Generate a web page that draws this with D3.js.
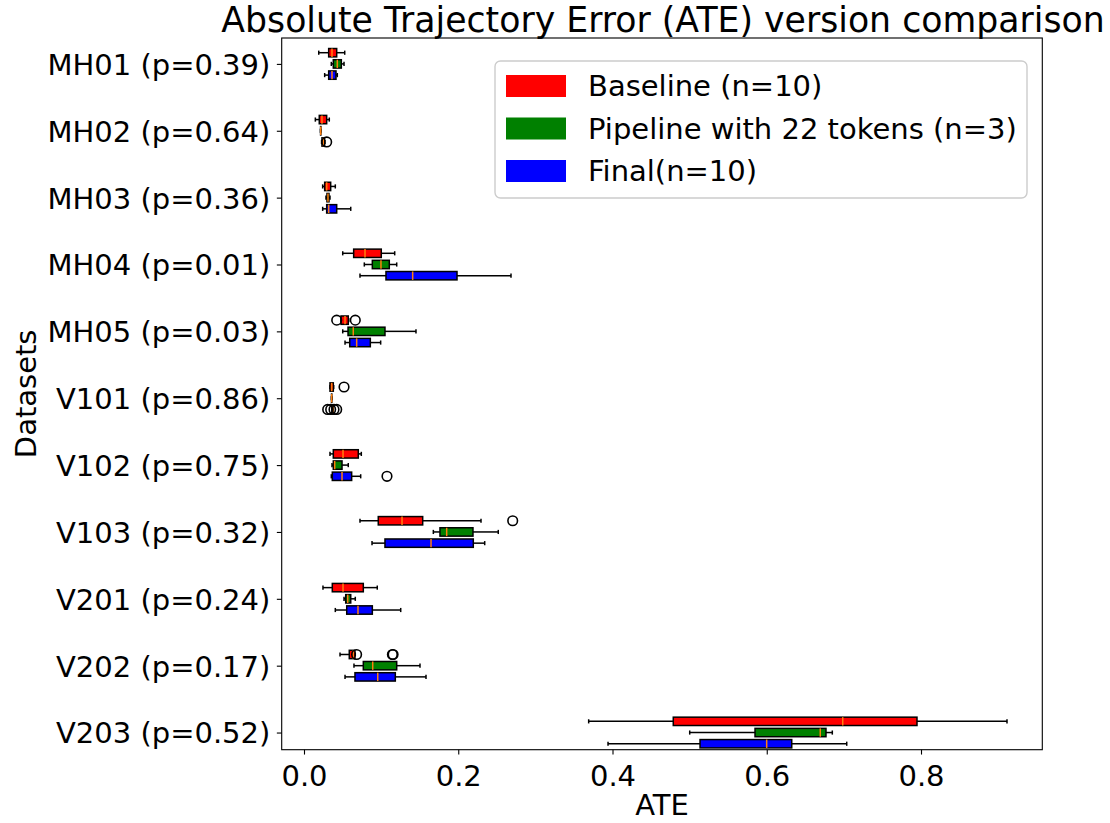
<!DOCTYPE html>
<html>
<head>
<meta charset="utf-8">
<script src="https://cdn.jsdelivr.net/npm/d3@7"></script>
<style>
  body { margin: 0; background: #ffffff; }
  svg { display: block; }
  text { font-family: "DejaVu Sans", sans-serif; fill: #000; }
</style>
</head>
<body>
<script>
// ---- data ---------------------------------------------------------------
const datasets = ["MH01", "MH02", "MH03", "MH04", "MH05", "V101", "V102", "V103", "V201", "V202", "V203"];
const pValues = ["0.39", "0.64", "0.36", "0.01", "0.03", "0.86", "0.75", "0.32", "0.24", "0.17", "0.52"];

const seriesNames = ["Baseline (n=10)", "Pipeline with 22 tokens (n=3)", "Final(n=10)"];
const seriesColors = ["#ff0000", "#008000", "#0000ff"];

// [min whisker, q1, median, q3, max whisker] for each dataset
const baselineStats = [
  [0.0191, 0.0320, 0.0363, 0.0424, 0.0528],
  [0.0147, 0.0198, 0.0233, 0.0294, 0.0328],
  [0.0242, 0.0268, 0.0294, 0.0346, 0.0406],
  [0.0502, 0.0644, 0.0791, 0.1002, 0.1176],
  [0.0480, 0.0480, 0.0532, 0.0574, 0.0580],
  [0.0337, 0.0337, 0.0359, 0.0380, 0.0385],
  [0.0337, 0.0380, 0.0506, 0.0704, 0.0743],
  [0.0726, 0.0963, 0.1271, 0.1539, 0.2295],
  [0.0246, 0.0367, 0.0506, 0.0769, 0.0950],
  [0.0467, 0.0587, 0.0639, 0.0661, 0.0665],
  [0.3691, 0.4788, 0.6985, 0.7948, 0.9115]
];
const pipelineStats = [
  [0.0354, 0.0380, 0.0432, 0.0484, 0.0519],
  [0.0213, 0.0215, 0.0217, 0.0219, 0.0221],
  [0.0285, 0.0298, 0.0311, 0.0324, 0.0337],
  [0.0782, 0.0886, 0.0998, 0.1106, 0.1202],
  [0.0502, 0.0571, 0.0639, 0.1050, 0.1452],
  [0.0355, 0.0357, 0.0359, 0.0361, 0.0363],
  [0.0363, 0.0380, 0.0398, 0.0493, 0.0574],
  [0.1677, 0.1763, 0.1850, 0.2191, 0.2519],
  [0.0519, 0.0541, 0.0567, 0.0606, 0.0665],
  [0.0648, 0.0769, 0.0891, 0.1202, 0.1504],
  [0.5001, 0.5848, 0.6694, 0.6768, 0.6850]
];
const finalStats = [
  [0.0268, 0.0320, 0.0363, 0.0415, 0.0432],
  [0.0228, 0.0233, 0.0250, 0.0268, 0.0272],
  [0.0242, 0.0294, 0.0320, 0.0424, 0.0606],
  [0.0726, 0.1063, 0.1409, 0.1984, 0.2684],
  [0.0532, 0.0593, 0.0683, 0.0860, 0.0994],
  [0.0362, 0.0365, 0.0372, 0.0378, 0.0381],
  [0.0354, 0.0367, 0.0493, 0.0618, 0.0735],
  [0.0882, 0.1050, 0.1647, 0.2195, 0.2343],
  [0.0406, 0.0554, 0.0700, 0.0886, 0.1254],
  [0.0532, 0.0661, 0.0956, 0.1184, 0.1582],
  [0.3942, 0.5135, 0.5999, 0.6324, 0.7037]
];

// points beyond the whiskers
const baselineOutliers = [[], [], [], [], [0.0424, 0.0665], [0.0519], [], [0.2706], [], [0.0682, 0.1146, 0.1155], []];
const pipelineOutliers = [[], [], [], [], [], [], [], [], [], [], []];
const finalOutliers = [[], [0.0294], [], [], [], [0.0307, 0.0346, 0.0389, 0.0424], [0.1076], [], [], [], []];

const xTicks = [0.0, 0.2, 0.4, 0.6, 0.8];

// ---- layout -------------------------------------------------------------
const W = 1110, H = 823;
const plot = { left: 281.7, right: 1042.3, top: 38, bottom: 749.7 };
const fontSize = 29;
const seriesOffset = [-0.1675, 0, 0.1675];
const boxWidth = 0.125;

const svg = d3.select("body").append("svg")
  .attr("width", W).attr("height", H);

const x = d3.scaleLinear().domain([-0.02891, 0.95727]).range([plot.left, plot.right]);
const y = d3.scaleLinear().domain([-0.3874, 10.2566]).range([plot.top, plot.bottom]);

const allStats = [baselineStats, pipelineStats, finalStats];
const allOutliers = [baselineOutliers, pipelineOutliers, finalOutliers];

const boxes = [];
allStats.forEach((stats, s) => {
  stats.forEach((st, i) => {
    boxes.push({ s, i, st, outliers: allOutliers[s][i] });
  });
});

const g = svg.append("g");
const halfH = (y(boxWidth) - y(0)) / 2;
const capH = halfH / 2;
const lw = 1.5;

const boxG = g.selectAll("g.box").data(boxes).join("g").attr("class", "box");
const cy = d => y(d.i + seriesOffset[d.s]);

// whiskers
boxG.append("line")
  .attr("x1", d => x(d.st[0])).attr("x2", d => x(d.st[1]))
  .attr("y1", cy).attr("y2", cy)
  .attr("stroke", "#000").attr("stroke-width", lw);
boxG.append("line")
  .attr("x1", d => x(d.st[3])).attr("x2", d => x(d.st[4]))
  .attr("y1", cy).attr("y2", cy)
  .attr("stroke", "#000").attr("stroke-width", lw);
// caps
[0, 4].forEach(k => {
  boxG.append("line")
    .attr("x1", d => x(d.st[k])).attr("x2", d => x(d.st[k]))
    .attr("y1", d => cy(d) - capH)
    .attr("y2", d => cy(d) + capH)
    .attr("stroke", "#000").attr("stroke-width", lw);
});
// boxes
boxG.append("rect")
  .attr("x", d => x(d.st[1]))
  .attr("width", d => Math.max(0, x(d.st[3]) - x(d.st[1])))
  .attr("y", d => cy(d) - halfH)
  .attr("height", halfH * 2)
  .attr("fill", d => seriesColors[d.s])
  .attr("stroke", "#000").attr("stroke-width", lw);
// medians
boxG.append("line")
  .attr("x1", d => x(d.st[2])).attr("x2", d => x(d.st[2]))
  .attr("y1", d => cy(d) - halfH)
  .attr("y2", d => cy(d) + halfH)
  .attr("stroke", "#ff7f0e").attr("stroke-width", lw);
// fliers
boxG.selectAll("circle").data(d => d.outliers.map(v => ({ v, d }))).join("circle")
  .attr("cx", o => x(o.v))
  .attr("cy", o => cy(o.d))
  .attr("r", 4.8)
  .attr("fill", "none").attr("stroke", "#000").attr("stroke-width", 1.6);

// ---- axes ---------------------------------------------------------------
const xAxis = d3.axisBottom(x).tickValues(xTicks).tickFormat(d3.format(".1f"))
  .tickSize(4.86).tickPadding(4.86);
const xg = svg.append("g").attr("transform", `translate(0,${plot.bottom})`).call(xAxis);
xg.select(".domain").remove();
xg.selectAll(".tick line").attr("stroke", "#000").attr("stroke-width", 1.11);
xg.selectAll(".tick text").attr("font-size", fontSize).attr("font-family", "DejaVu Sans")
  .attr("dy", null).attr("y", 36.5).attr("fill", "#000");

const yAxis = d3.axisLeft(y).tickValues(d3.range(datasets.length))
  .tickFormat(i => `${datasets[i]} (p=${pValues[i]})`)
  .tickSize(4.86).tickPadding(6.5);
const yg = svg.append("g").attr("transform", `translate(${plot.left},0)`).call(yAxis);
yg.select(".domain").remove();
yg.selectAll(".tick line").attr("stroke", "#000").attr("stroke-width", 1.11);
yg.selectAll(".tick text").attr("font-size", fontSize).attr("font-family", "DejaVu Sans")
  .attr("dy", "0.36em").attr("fill", "#000");

// frame
svg.append("rect")
  .attr("x", plot.left).attr("y", plot.top)
  .attr("width", plot.right - plot.left).attr("height", plot.bottom - plot.top)
  .attr("fill", "none").attr("stroke", "#000").attr("stroke-width", 1.11);

// labels
svg.append("text").attr("x", (plot.left + plot.right) / 2).attr("y", 815)
  .attr("text-anchor", "middle").attr("font-size", fontSize).text("ATE");
svg.append("text")
  .attr("transform", `translate(36,${(plot.top + plot.bottom) / 2}) rotate(-90)`)
  .attr("text-anchor", "middle").attr("font-size", fontSize).text("Datasets");
svg.append("text").attr("x", (plot.left + plot.right) / 2 + 1).attr("y", 32)
  .attr("text-anchor", "middle").attr("font-size", 34.7)
  .text("Absolute Trajectory Error (ATE) version comparison");

// ---- legend -------------------------------------------------------------
const leg = { left: 495, top: 61, right: 1027, bottom: 198 };
const lg = svg.append("g");
lg.append("rect")
  .attr("x", leg.left).attr("y", leg.top)
  .attr("width", leg.right - leg.left).attr("height", leg.bottom - leg.top)
  .attr("rx", 5.5).attr("ry", 5.5)
  .attr("fill", "#ffffff").attr("fill-opacity", 0.8)
  .attr("stroke", "#cccccc").attr("stroke-width", 1.39);
const rowY = d3.scalePoint().domain(d3.range(seriesNames.length)).range([86, 171]);
const items = lg.selectAll("g.item").data(seriesNames).join("g").attr("class", "item");
items.append("rect")
  .attr("x", 506).attr("width", 60)
  .attr("y", (d, i) => rowY(i) - 11).attr("height", 22)
  .attr("fill", (d, i) => seriesColors[i]);
items.append("text")
  .attr("x", 588).attr("y", (d, i) => rowY(i)).attr("dy", "0.36em")
  .attr("font-size", fontSize).text(d => d);
</script>
</body>
</html>
